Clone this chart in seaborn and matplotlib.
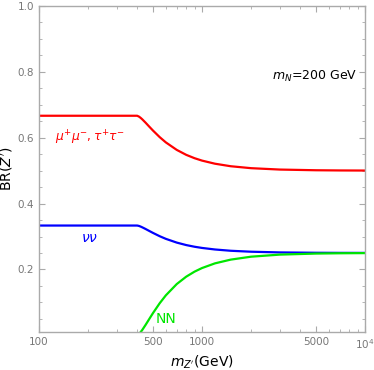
import matplotlib
matplotlib.use("Agg")
import matplotlib.pyplot as plt
import matplotlib.ticker as mticker
import seaborn as sns
import pandas as pd

# Z' mass (GeV)
mass = [100, 400, 410, 420, 430, 450, 475, 500, 550, 600, 700, 800, 900,
        1000, 1200, 1500, 2000, 3000, 5000, 7000, 10000]
# branching ratios
br_ll = [0.6667, 0.6667, 0.6643, 0.6604, 0.6559, 0.6460, 0.6335, 0.6219, 0.6018,
         0.5858, 0.5630, 0.5480, 0.5378, 0.5305, 0.5211, 0.5134, 0.5075, 0.5033,
         0.5012, 0.5006, 0.5003]
br_nunu = [0.3333, 0.3333, 0.3322, 0.3302, 0.3279, 0.3230, 0.3168, 0.3110, 0.3009,
           0.2929, 0.2815, 0.2740, 0.2689, 0.2653, 0.2606, 0.2567, 0.2538, 0.2517,
           0.2506, 0.2503, 0.2502]
br_NN = [None, 0.0, 0.0035, 0.0094, 0.0162, 0.0311, 0.0497, 0.0672, 0.0973,
         0.1213, 0.1556, 0.1780, 0.1933, 0.2042, 0.2184, 0.2298, 0.2387, 0.2450,
         0.2482, 0.2491, 0.2496]

sns.set_theme(style="ticks")
plt.rcParams['font.family'] = ['DejaVu Sans']

fig = plt.figure(figsize=(3.74, 3.70), dpi=100)
ax = fig.add_axes([39/374, (370-332)/370, (365-39)/374, (332-6)/370])

df = pd.DataFrame({"m": mass, "ll": br_ll, "nn": br_nunu, "NN": br_NN})
sns.lineplot(data=df, x="m", y="ll", color="#ff0000", lw=1.6, ax=ax)
sns.lineplot(data=df, x="m", y="nn", color="#0000ff", lw=1.6, ax=ax)
sns.lineplot(data=df.dropna(), x="m", y="NN", color="#00e600", lw=1.6, ax=ax)

ax.set_xscale("log")
ax.set_xlim(100, 10000)
ax.set_ylim(0.01, 1.0)
ax.xaxis.set_major_locator(mticker.FixedLocator([100, 500, 1000, 5000, 10000]))
ax.xaxis.set_major_formatter(mticker.FixedFormatter(["100", "500", "1000", "5000", r"$10^4$"]))
minors = [200, 300, 400, 600, 700, 800, 900, 2000, 3000, 4000, 6000, 7000, 8000, 9000]
ax.xaxis.set_minor_locator(mticker.FixedLocator(minors))
ax.xaxis.set_minor_formatter(mticker.NullFormatter())
ax.yaxis.set_major_locator(mticker.FixedLocator([0.2, 0.4, 0.6, 0.8, 1.0]))
ax.yaxis.set_major_formatter(mticker.FuncFormatter(lambda v, p: f"{v:.1f}"))
ax.yaxis.set_minor_locator(mticker.FixedLocator([0.05 * i for i in range(1, 20)]))

gray = "#aaaaaa"
for s in ax.spines.values():
    s.set_color(gray)
    s.set_linewidth(1.0)
ax.tick_params(which="both", direction="in", top=True, right=True, color=gray,
               labelcolor="#777777", labelsize=7.5)
ax.tick_params(which="major", length=4, width=0.8)
ax.tick_params(which="minor", length=2.5, width=0.6)

ax.set_xlabel(r"$m_{Z'}$(GeV)", fontsize=10, color="black", labelpad=2)
ax.set_ylabel(r"BR($Z'$)", fontsize=10, color="black", labelpad=2)

ax.text(205, 0.60, r"$\mu^{+}\mu^{-},\tau^{+}\tau^{-}$",
        color="#ff0000", fontsize=8.8, ha="center", va="center")
ax.text(203, 0.295, r"$\nu\nu$", color="#0000ff", fontsize=10, ha="center", va="center")
ax.text(600, 0.05, "NN", color="#00e600", fontsize=10, ha="center", va="center")
ax.text(9000, 0.785, r"$m_N$=200 GeV", color="black", fontsize=9, ha="right", va="center")

fig.savefig("out.png", dpi=100)
